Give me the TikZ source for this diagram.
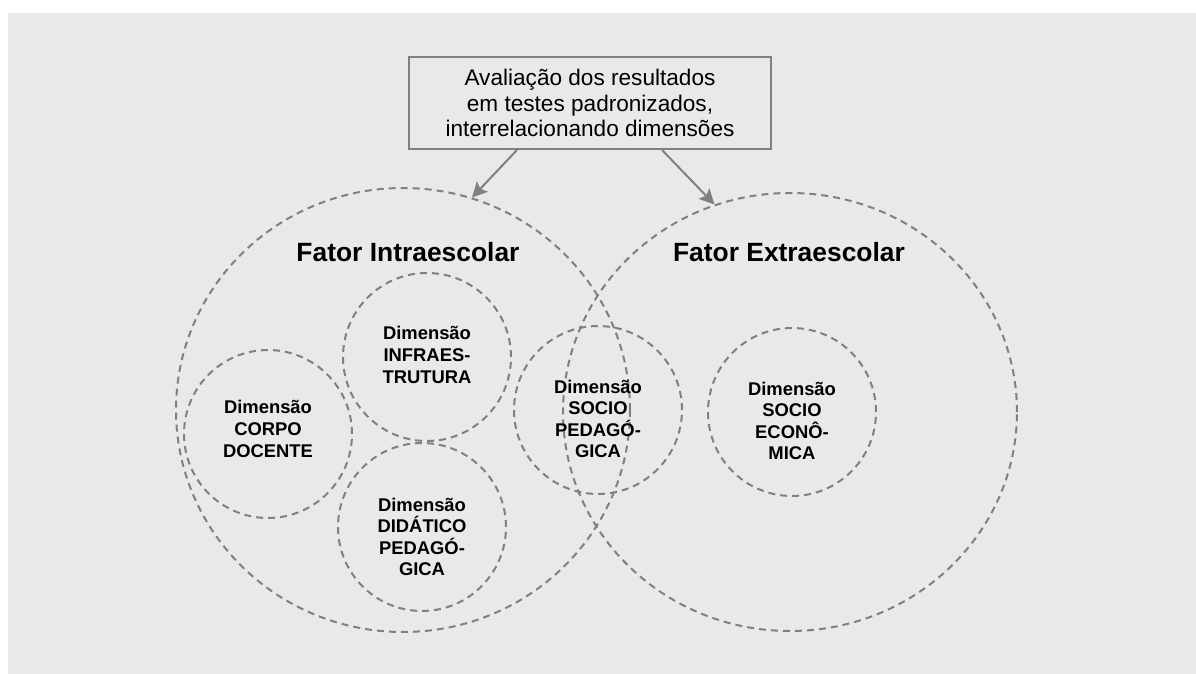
\documentclass[tikz,border=0pt]{standalone}
\usepackage{fontspec}
\setmainfont{Liberation Sans}
\usetikzlibrary{positioning,shapes.geometric,arrows.meta}

\definecolor{fundo}{HTML}{E9E9E9}
\definecolor{traco}{HTML}{808080}

\begin{document}
\begin{tikzpicture}[x=0.5pt,y=-0.5pt,>={Stealth[length=7.5pt,width=7.5pt,inset=1.5pt]},
    fator/.style={ellipse,draw=traco,line width=1pt,dash pattern=on 3.5pt off 2.5pt,minimum width=227pt,inner sep=0pt},
    dimensao/.style={circle,draw=traco,line width=1pt,dash pattern=on 3.5pt off 2.5pt,minimum size=84pt,inner sep=0pt},
    rotulo/.style={align=center,font=\bfseries\fontsize{9.2}{10.8}\selectfont},
    titulo/.style={font=\bfseries\fontsize{13.2}{15}\selectfont},
    caixa/.style={draw=traco,fill=fundo,line width=1pt,minimum width=181pt,minimum height=46pt,align=center,font=\fontsize{11.3}{12.65}\selectfont},
    seta/.style={->,draw=traco,line width=1pt}]
  \useasboundingbox (0,0) rectangle (1196,674);
  \fill[fundo] (8,13) rectangle (1196,674);
  % fatores
  \node[fator,minimum height=222pt] (intra) at (403,410) {};
  \node[fator,minimum height=219pt] (extra) at (790,412) {};
  \node[titulo] (intratit) at (408,252) {Fator Intraescolar};
  \node[titulo] (extratit) at (789,252) {Fator Extraescolar};
  % dimensoes
  \node[dimensao] (corpo) at (268,434) {};
  \node[dimensao] (infra) at (427,357) {};
  \node[dimensao] (didat) at (422,527) {};
  \node[dimensao] (sociop) at (598,410) {};
  \node[dimensao] (socioe) at (792,412) {};
  \node[rotulo,yshift=2.5pt] (corpotxt) at (corpo) {Dimensão\\CORPO\\DOCENTE};
  \node[rotulo,yshift=1pt] (infratxt) at (infra) {Dimensão\\INFRAES-\\TRUTURA};
  \node[rotulo,yshift=-5pt] (didattxt) at (didat) {Dimensão\\DIDÁTICO\\PEDAGÓ-\\GICA};
  \node[rotulo,yshift=-4.5pt] (socioptxt) at (sociop) {Dimensão\\SOCIO\\PEDAGÓ-\\GICA};
  \node[rotulo,yshift=-4.5pt] (socioetxt) at (socioe) {Dimensão\\SOCIO\\ECONÔ-\\MICA};
  % avaliacao
  \node[caixa] (aval) at (590,103) {Avaliação dos resultados\\em testes padronizados,\\interrelacionando dimensões};
  \draw[seta] ([xshift=-36.5pt]aval.south) -- (intra.72);
  \draw[seta] ([xshift=36pt]aval.south) -- (extra.110);
\end{tikzpicture}
\end{document}
